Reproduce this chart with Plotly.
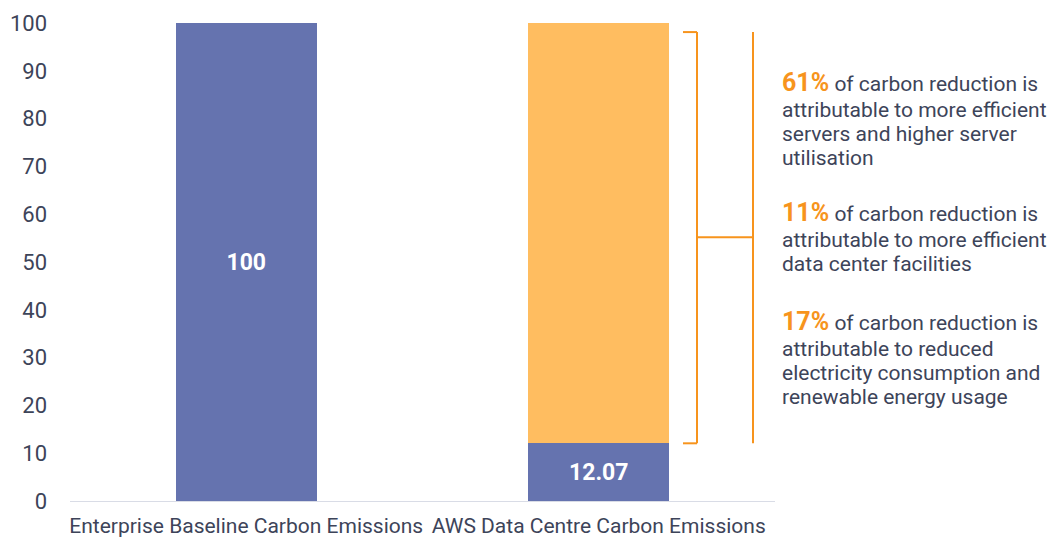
import plotly.graph_objects as go

categories = ["Enterprise Baseline Carbon Emissions", "AWS Data Centre Carbon Emissions"]
base_values = [100, 12.07]
reduction_values = [0, 87.93]
base_labels = ["100", "12.07"]
bracket_top = 98.1
bracket_bottom = 12.07
bracket_mid = 55.2

note_pcts = ["61%", "11%", "17%"]
note_lines = [
    ["of carbon reduction is", "attributable to more efficient", "servers and higher server", "utilisation"],
    ["of carbon reduction is", "attributable to more efficient", "data center facilities"],
    ["of carbon reduction is", "attributable to reduced", "electricity consumption and", "renewable energy usage"],
]
note_first_y = [87.6, 60.4, 37.6]   # y value of each block's first line
first_gap = 5.7                     # y units between first and second line
line_step = 5.1                     # y units between following lines

BLUE = "#6573AF"
ORANGE = "#FFBD60"
BRACKET = "#F7941D"
TEXT = "#3D4459"
FONT = "Roboto"

fig = go.Figure()
fig.add_trace(go.Bar(
    x=categories, y=base_values, marker_color=BLUE, marker_line_width=0,
    text=base_labels, textposition="inside", insidetextanchor="middle",
    textfont=dict(color="white", size=23, family=FONT, weight="bold"),
    hoverinfo="skip",
))
fig.add_trace(go.Bar(
    x=categories, y=reduction_values, marker_color=ORANGE, marker_line_width=0,
    hoverinfo="skip",
))

# bracket shapes
xl, xr, xm = (683 - 70) / 705, (697 - 70) / 705, (753 - 70) / 705
line = dict(color=BRACKET, width=2)
fig.add_shape(type="line", xref="paper", yref="y", x0=xl, x1=xr, y0=bracket_top, y1=bracket_top, line=line)
fig.add_shape(type="line", xref="paper", yref="y", x0=xl, x1=xr, y0=bracket_bottom, y1=bracket_bottom, line=line)
fig.add_shape(type="line", xref="paper", yref="y", x0=xr, x1=xr, y0=bracket_bottom, y1=bracket_top, line=line)
fig.add_shape(type="line", xref="paper", yref="y", x0=xr, x1=xm, y0=bracket_mid, y1=bracket_mid, line=line)
fig.add_shape(type="line", xref="paper", yref="y", x0=xm, x1=xm, y0=bracket_bottom, y1=bracket_top, line=line)

xt = (781 - 70) / 705
for pct, lines, y0 in zip(note_pcts, note_lines, note_first_y):
    for i, ln in enumerate(lines):
        if i == 0:
            txt = f"<b><span style='color:{BRACKET};font-size:25px'>{pct}</span></b> {ln}"
            yv = y0
        else:
            txt = ln
            yv = y0 - first_gap - (i - 1) * line_step
        fig.add_annotation(
            xref="paper", yref="y", x=xt, y=yv,
            xanchor="left", yanchor="middle", align="left", showarrow=False,
            borderpad=0,
            text=txt, font=dict(family=FONT, size=21, color=TEXT),
        )

fig.update_layout(
    barmode="stack", bargap=0.6, showlegend=False,
    width=1060, height=540,
    margin=dict(l=70, r=285, t=23, b=39),
    paper_bgcolor="white", plot_bgcolor="white",
    font=dict(family=FONT, size=21, color=TEXT),
)
fig.update_yaxes(range=[0, 100], dtick=10, showgrid=False, zeroline=False,
                 showline=False, ticks="", ticklabelstandoff=22, automargin=False,
                 tickfont=dict(size=22, color=TEXT))
fig.update_xaxes(showgrid=False, showline=True, linecolor="#D9DCE6", linewidth=1,
                 ticks="", ticklabelstandoff=6, automargin=False,
                 tickfont=dict(size=21, color=TEXT))

fig.write_html("out.html")
